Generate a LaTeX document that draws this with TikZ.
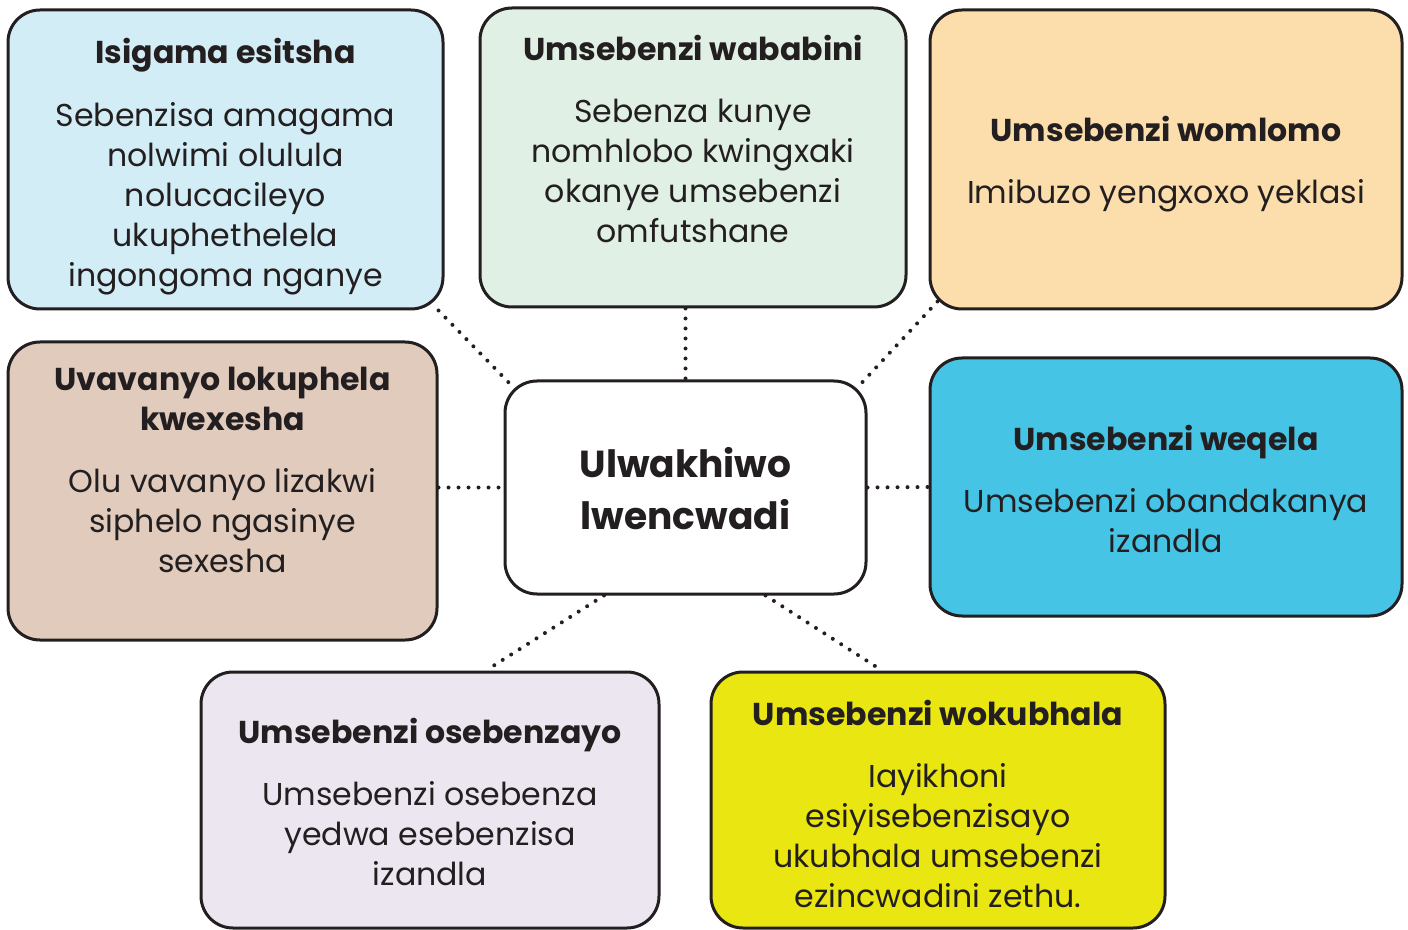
\documentclass[tikz,border=0pt]{standalone}
\usepackage{fontspec}
\setmainfont{Poppins}
\usepackage{xcolor}
\usepackage{tikz}
\usetikzlibrary{positioning}
\definecolor{inkdark}{RGB}{35,31,32}
\definecolor{fillsky}{RGB}{211,237,246}
\definecolor{fillmint}{RGB}{225,240,229}
\definecolor{fillpeach}{RGB}{252,222,172}
\definecolor{filltan}{RGB}{225,203,188}
\definecolor{fillcyan}{RGB}{69,196,230}
\definecolor{filllilac}{RGB}{236,230,241}
\definecolor{fillyellow}{RGB}{234,230,18}
\tikzset{
  card/.style={rectangle, draw=inkdark, rounded corners=16pt,
    line width=1.5pt, inner sep=0pt},
  cardtext/.style={align=center, inner sep=0pt, text=inkdark,
    font=\fontsize{15.8}{20}\selectfont},
  hubtext/.style={align=center, inner sep=0pt, text=inkdark,
    font=\bfseries\fontsize{18.8}{26}\selectfont},
  link/.style={inkdark, line width=2pt, line cap=round,
    dash pattern=on 0pt off 5pt}
}
\newcommand{\cardtitle}[1]{{\bfseries\fontsize{15.8}{20}\selectfont #1}}

\begin{document}
\begin{tikzpicture}[x=0.5pt, y=-0.5pt]
  \useasboundingbox (0,0) rectangle (1408,930);

  % Row 1
  \node[card, fill=fillsky, minimum width=217.5pt, minimum height=149.5pt]
    (vocab) at (225.5,159.5) {};
  \node[card, fill=fillmint, minimum width=213pt, minimum height=149.5pt]
    (pair) at (693,157.5) {};
  \node[card, fill=fillpeach, minimum width=236pt, minimum height=149.5pt]
    (oral) at (1166,159.5) {};

  % Row 2: hub in the middle
  \node[card, fill=filltan, minimum width=214.5pt, minimum height=149pt]
    (test) at (222.5,491) {};
  \node[card, fill=white, minimum width=180.5pt, minimum height=106.5pt]
    (hub) at (685.5,487.5) {};
  \node[card, fill=fillcyan, minimum width=236pt, minimum height=129pt]
    (group) at (1166,487) {};

  % Row 3
  \node[card, fill=filllilac, minimum width=229pt, minimum height=128pt]
    (indiv) at (430,800) {};
  \node[card, fill=fillyellow, minimum width=227pt, minimum height=128pt]
    (writing) at (938,800) {};

  % Texts
  \node[cardtext, below=14.5pt of vocab.north] (vocabtxt)
    {\cardtitle{Isigama esitsha}\\[11.5pt]
     Sebenzisa amagama\\nolwimi olulula\\nolucacileyo\\ukuphethelela\\ingongoma nganye};
  \node[cardtext, below=14pt of pair.north] (pairtxt)
    {\cardtitle{Umsebenzi wababini}\\[11pt]
     Sebenza kunye\\nomhlobo kwingxaki\\okanye umsebenzi\\omfutshane};
  \node[cardtext, below=53.5pt of oral.north] (oraltxt)
    {\cardtitle{Umsebenzi womlomo}\\[11pt]
     Imibuzo yengxoxo yeklasi};
  \node[cardtext, below=13pt of test.north] (testtxt)
    {\cardtitle{Uvavanyo lokuphela}\\\cardtitle{kwexesha}\\[11pt]
     Olu vavanyo lizakwi\\siphelo ngasinye\\sexesha};
  \node[hubtext, below=33.5pt of hub.north] (hubtxt) {Ulwakhiwo\\lwencwadi};
  \node[cardtext, below=34pt of group.north] (grouptxt)
    {\cardtitle{Umsebenzi weqela}\\[11pt]
     Umsebenzi obandakanya\\izandla};
  \node[cardtext, below=23.5pt of indiv.north] (indivtxt)
    {\cardtitle{Umsebenzi osebenzayo}\\[11pt]
     Umsebenzi osebenza\\yedwa esebenzisa\\izandla};
  \node[cardtext, below=14.5pt of writing.north] (writingtxt)
    {\cardtitle{Umsebenzi wokubhala}\\[11pt]
     Iayikhoni\\esiyisebenzisayo\\ukubhala umsebenzi\\ezincwadini zethu.};

  % Dotted links to the hub
  \draw[link] ([xshift=-3pt]vocab.south east) -- ([xshift=5.5pt,yshift=-4.5pt]hub.north west);
  \draw[link] (pair.south -| hub.north) -- (hub.north);
  \draw[link] ([xshift=4.5pt,yshift=4.5pt]oral.south west) -- ([xshift=-5.5pt,yshift=-4.5pt]hub.north east);
  \draw[link] (test.east |- hub.west) -- (hub.west);
  \draw[link] (hub.east) -- (group.west);
  \draw[link] ([xshift=-40.75pt]hub.south) -- ([xshift=28pt]indiv.north);
  \draw[link] ([xshift=40pt]hub.south) -- ([xshift=-28pt]writing.north);
\end{tikzpicture}
\end{document}
